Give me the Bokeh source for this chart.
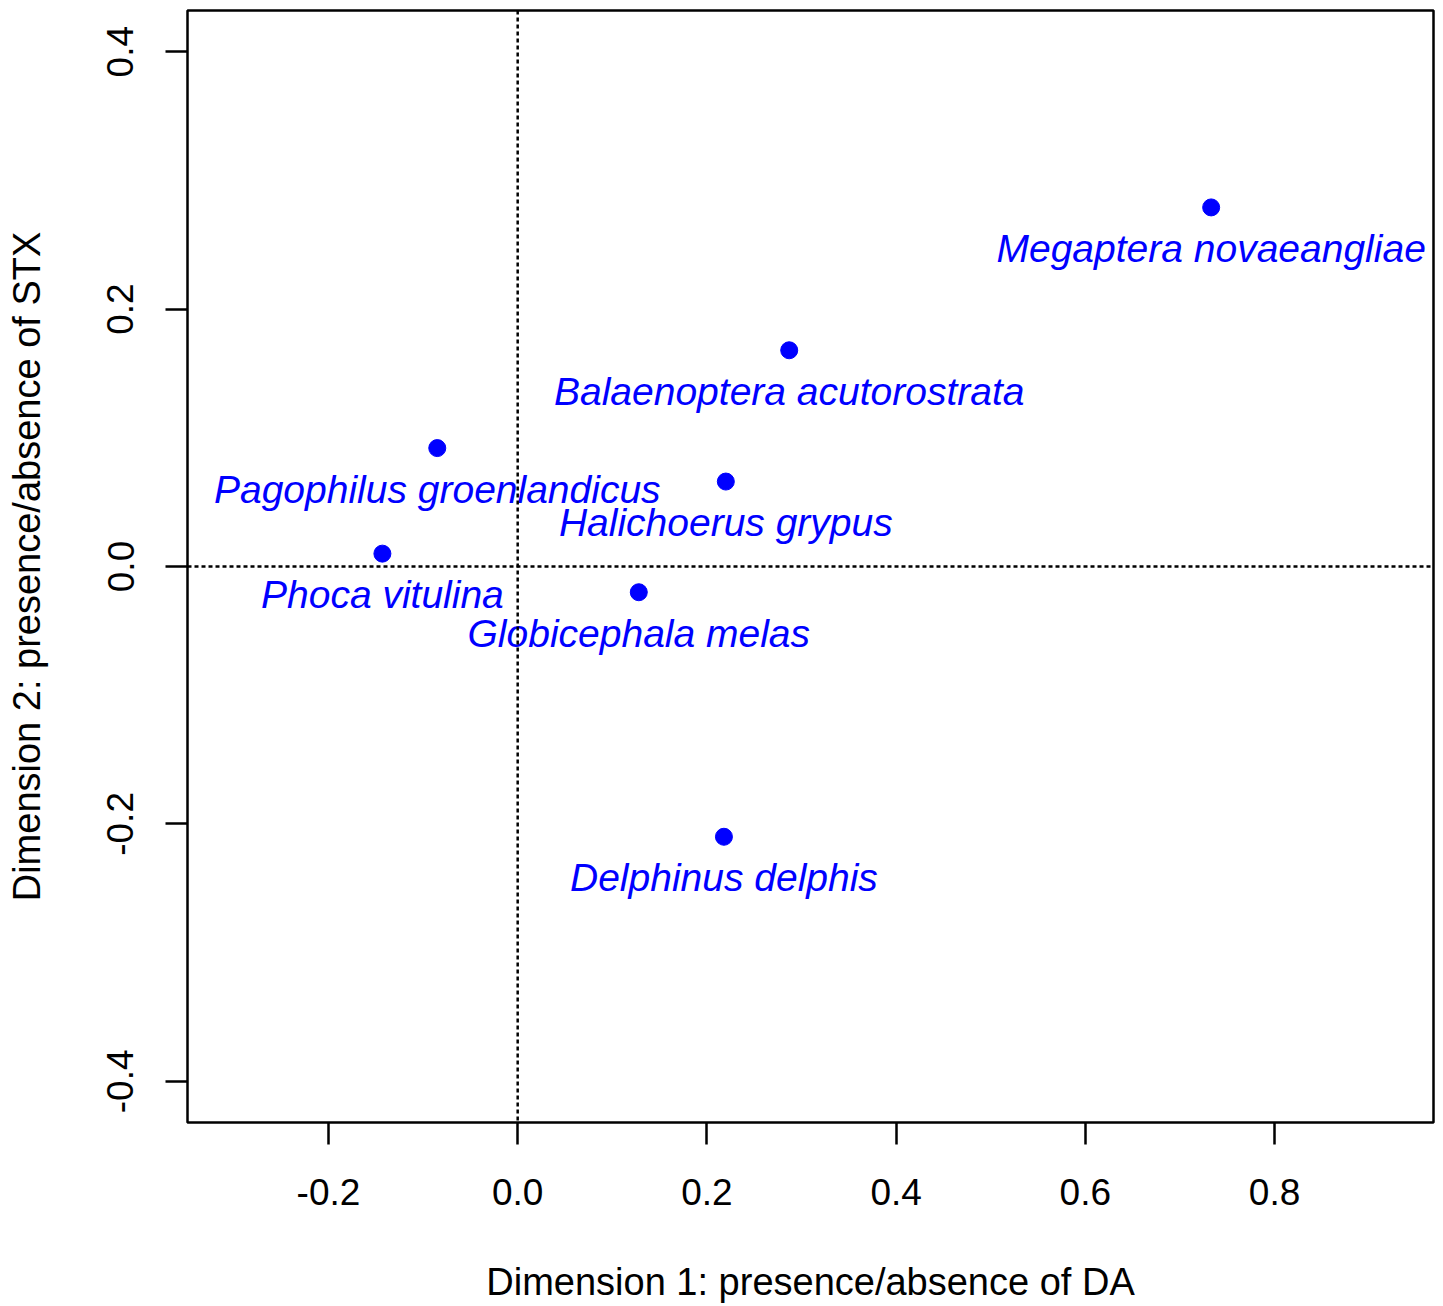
from bokeh.plotting import figure
from bokeh.models import Range1d, FixedTicker, Span, ColumnDataSource
from bokeh.core.properties import value
from bokeh.embed import file_html
from bokeh.resources import INLINE

# Data
species = ["Megaptera novaeangliae", "Balaenoptera acutorostrata", "Pagophilus groenlandicus",
           "Halichoerus grypus", "Phoca vitulina", "Globicephala melas", "Delphinus delphis"]
dim1 = [0.733, 0.287, -0.085, 0.220, -0.143, 0.128, 0.218]
dim2 = [0.279, 0.168, 0.092, 0.066, 0.010, -0.020, -0.210]

x_ticks = [-0.2, 0.0, 0.2, 0.4, 0.6, 0.8]
x_tick_labels = ["-0.2", "0.0", "0.2", "0.4", "0.6", "0.8"]
y_ticks = [-0.4, -0.2, 0.0, 0.2, 0.4]
y_tick_labels = ["-0.4", "-0.2", "0.0", "0.2", "0.4"]

FONT = "Liberation Sans"

p = figure(width=1443, height=1306, output_backend="svg", toolbar_location=None,
           x_range=Range1d(-0.349, 0.968), y_range=Range1d(-0.432, 0.432),
           min_border_left=187, min_border_right=10, min_border_top=10, min_border_bottom=184)
p.background_fill_color = "white"
p.border_fill_color = "white"
p.grid.visible = False
p.outline_line_color = "black"
p.outline_line_width = 2.5
p.outline_line_alpha = 1.0

p.xaxis.ticker = FixedTicker(ticks=x_ticks)
p.yaxis.ticker = FixedTicker(ticks=y_ticks)
p.xaxis.major_label_overrides = {t: l for t, l in zip(x_ticks, x_tick_labels)}
p.yaxis.major_label_overrides = {t: l for t, l in zip(y_ticks, y_tick_labels)}
p.yaxis.major_label_orientation = "vertical"

for ax in (p.xaxis[0], p.yaxis[0]):
    ax.axis_line_color = None
    ax.major_tick_out = 22
    ax.major_tick_in = 0
    ax.major_tick_line_width = 2.5
    ax.major_tick_line_color = "black"
    ax.minor_tick_line_color = None
    ax.major_label_text_font = FONT
    ax.major_label_text_font_size = "37px"
    ax.major_label_text_color = "black"
    ax.axis_label_text_font = FONT
    ax.axis_label_text_font_size = "38px"
    ax.axis_label_text_font_style = "normal"
    ax.axis_label_text_color = "black"

p.xaxis.axis_label = "Dimension 1: presence/absence of DA"
p.yaxis.axis_label = "Dimension 2: presence/absence of STX"
p.xaxis.major_label_standoff = 34
p.yaxis.major_label_standoff = 32
p.xaxis.axis_label_standoff = 53
p.yaxis.axis_label_standoff = 57

p.add_layout(Span(location=0, dimension="height", line_color="black", line_width=2.5, line_dash="4 3"))
p.add_layout(Span(location=0, dimension="width", line_color="black", line_width=2.5, line_dash="4 3"))

src = ColumnDataSource(dict(x=dim1, y=dim2, name=species))
p.scatter("x", "y", source=src, size=17, color="#0000FF")
p.text("x", "y", text="name", source=src, text_font=value(FONT), text_font_style="italic",
       text_font_size="39px", text_color="#0000FF", text_align="center", text_baseline="alphabetic",
       y_offset=41)

open("out.html", "w").write(file_html(p, INLINE))
